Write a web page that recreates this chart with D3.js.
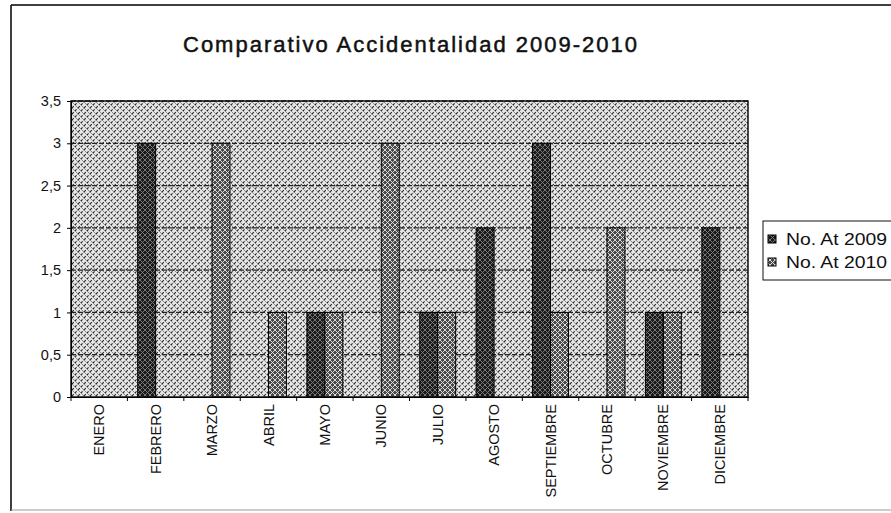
<!DOCTYPE html>
<html><head><meta charset="utf-8">
<script src="https://cdn.jsdelivr.net/npm/d3@7"></script>
<style>body{margin:0;background:#fff}svg{display:block}text{font-family:Arial,"Liberation Sans",sans-serif}</style>
</head><body>
<svg id="c" width="891" height="513"></svg>
<script>
const months = ["ENERO","FEBRERO","MARZO","ABRIL","MAYO","JUNIO","JULIO","AGOSTO","SEPTIEMBRE","OCTUBRE","NOVIEMBRE","DICIEMBRE"];
const at2009 = [0,3,0,0,1,0,1,2,3,0,1,2];
const at2010 = [0,0,3,1,1,3,1,0,1,2,1,0];
const seriesNames = ["No. At 2009","No. At 2010"];
const yTicks = [0,0.5,1,1.5,2,2.5,3,3.5];
const title = "Comparativo Accidentalidad 2009-2010";

const svg = d3.select("#c");
const defs = svg.append("defs");
// plot-area crosshatch
const pb = defs.append("pattern").attr("id","bg").attr("patternUnits","userSpaceOnUse").attr("width",6).attr("height",6);
pb.append("rect").attr("width",6).attr("height",6).attr("fill","#e6e6e6");
pb.append("path").attr("d","M0,6L6,0M-1,1L1,-1M5,7L7,5").attr("stroke","#222").attr("stroke-width",1.1).attr("stroke-dasharray","2.5,1.5");
pb.append("path").attr("d","M0,0L6,6M-1,5L1,7M5,-1L7,1").attr("stroke","#888").attr("stroke-width",1);
// 2009 bar
const p1 = defs.append("pattern").attr("id","s1").attr("patternUnits","userSpaceOnUse").attr("width",5).attr("height",5);
p1.append("rect").attr("width",5).attr("height",5).attr("fill","#1a1a1a");
p1.append("path").attr("d","M0,5L5,0M0,0L5,5").attr("stroke","#808080").attr("stroke-width",0.9);
// 2010 bar
const p2 = defs.append("pattern").attr("id","s2").attr("patternUnits","userSpaceOnUse").attr("width",5).attr("height",5);
p2.append("rect").attr("width",5).attr("height",5).attr("fill","#4a4a4a");
p2.append("path").attr("d","M0,5L5,0M0,0L5,5").attr("stroke","#e8e8e8").attr("stroke-width",0.9);

// outer frame
svg.append("path").attr("d","M11,5H891M11,5V511").attr("fill","none").attr("stroke","#000").attr("stroke-width",1.5);
svg.append("path").attr("d","M11,510H891").attr("fill","none").attr("stroke","#999").attr("stroke-width",1.2);

const m = {l:71,t:101,r:748,b:397};
const x = d3.scaleBand().domain(months).range([m.l,m.r]);
const xs = d3.scaleBand().domain([0,1]).range([0,x.bandwidth()]).paddingInner(0).paddingOuter(0.57);
const y = d3.scaleLinear().domain([0,3.5]).range([m.b,m.t]);

svg.append("text").attr("x",183).attr("y",52).attr("font-size",22).attr("fill","#111")
  .attr("stroke","#111").attr("stroke-width",0.5).attr("textLength",454).attr("lengthAdjust","spacing").text(title);

svg.append("rect").attr("x",m.l).attr("y",m.t).attr("width",m.r-m.l).attr("height",m.b-m.t).attr("fill","url(#bg)");
// gridlines
svg.append("g").selectAll("line").data(yTicks.slice(1)).join("line")
  .attr("x1",m.l).attr("x2",m.r).attr("y1",d=>y(d)).attr("y2",d=>y(d)).attr("stroke","#222").attr("stroke-width",1.3).attr("stroke-dasharray","5,2");

const data = months.map((mo,i)=>({mo,v:[at2009[i],at2010[i]]}));
const g = svg.append("g");
data.forEach(d=>{
  d.v.forEach((v,k)=>{
    if(v>0) g.append("rect").attr("x",x(d.mo)+xs(k)).attr("y",y(v)).attr("width",xs.bandwidth()).attr("height",y(0)-y(v))
      .attr("fill",k===0?"url(#s1)":"url(#s2)").attr("stroke","#000").attr("stroke-width",1);
  });
});
svg.append("rect").attr("x",m.l).attr("y",m.t).attr("width",m.r-m.l).attr("height",m.b-m.t).attr("fill","none").attr("stroke","#111").attr("stroke-width",1.5);

// y axis
const ya = svg.append("g").attr("transform",`translate(${m.l},0)`).call(d3.axisLeft(y).tickValues(yTicks).tickSize(4).tickFormat(d=>String(d).replace(".",",")));
ya.select(".domain").attr("stroke","#000");
ya.selectAll("text").attr("font-size",14.5).attr("fill","#111").attr("dx",-3);
// x axis
const xa = svg.append("g").attr("transform",`translate(0,${m.b})`).call(d3.axisBottom(x).tickSize(0));
xa.select(".domain").attr("stroke","#000");
xa.selectAll(".tick text").attr("font-size",14.5).attr("fill","#111").attr("transform","rotate(-90)").attr("text-anchor","end").attr("x",-7).attr("y",0).attr("dy","0.35em");
xa.append("g").selectAll("line").data(d3.range(months.length+1)).join("line")
  .attr("x1",i=>m.l+i*x.step()).attr("x2",i=>m.l+i*x.step()).attr("y1",0).attr("y2",4).attr("stroke","#000");

// legend
const lg = svg.append("g");
lg.append("rect").attr("x",763).attr("y",221).attr("width",140).attr("height",59).attr("fill","#fff").attr("stroke","#111");
seriesNames.forEach((n,i)=>{
  const yy = 239 + i*23;
  lg.append("rect").attr("x",768).attr("y",yy-4).attr("width",8).attr("height",8).attr("fill",i===0?"url(#s1)":"url(#s2)").attr("stroke","#000");
  lg.append("text").attr("x",786).attr("y",yy).attr("dy","0.36em").attr("font-size",16).attr("fill","#111").attr("textLength",101).attr("lengthAdjust","spacingAndGlyphs").text(n);
});
</script>
</body></html>
